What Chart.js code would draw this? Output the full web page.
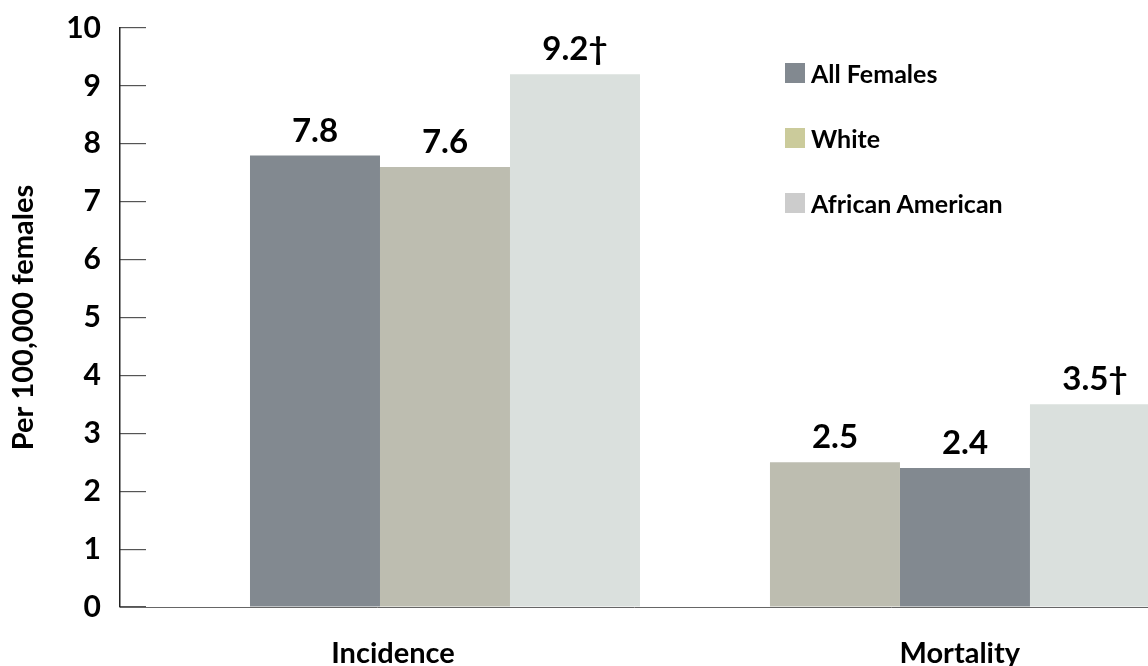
<!DOCTYPE html>
<html>
<head>
<meta charset="utf-8">
<script src="https://cdn.jsdelivr.net/npm/chart.js@4/dist/chart.umd.min.js"></script>
<style>
  html, body { margin: 0; padding: 0; background: #fff; overflow: hidden; }
  #wrap { position: relative; width: 1148px; height: 666px; }
  canvas { display: block; }
  #legend { position: absolute; left: 785px; top: 60px; font: bold 25px Lato, sans-serif; color: #000; }
  #legend div { display: flex; align-items: center; height: 26px; margin-bottom: 39px; white-space: nowrap; }
  #legend span.box { width: 20px; height: 20px; margin-right: 6px; display: inline-block; flex: none; }
</style>
</head>
<body>
<div id="wrap">
  <canvas id="barChart" width="1148" height="666"></canvas>
  <div id="legend"></div>
</div>
<script>
// Data
const categories = ["Incidence", "Mortality"];
const seriesNames = ["All Females", "White", "African American"];
const allFemales = [7.8, 2.5];
const white = [7.6, 2.4];
const africanAmerican = [9.2, 3.5];
const notes = ["", "", "\u2020"]; // dagger after African American values
const yTicks = [0, 1, 2, 3, 4, 5, 6, 7, 8, 9, 10];

// Colours (the original swaps the first two bar colours in the Mortality group)
const legendColors = ["#828990", "#cbcb9b", "#cccccc"];
const barColors = [
  ["#828990", "#bdbdb0"],
  ["#bdbdb0", "#828990"],
  ["#dae0dd", "#dae0dd"],
];

const seriesValues = [allFemales, white, africanAmerican];

const datasets = seriesNames.map((name, s) => ({
  label: name,
  data: seriesValues[s].map((v, i) => ({ x: i, y: v })),
  backgroundColor: barColors[s],
  borderWidth: 0,
  categoryPercentage: 0.75,
  barPercentage: 1.0,
}));

// Value labels above each bar
const valueLabels = {
  id: "valueLabels",
  afterDatasetsDraw(chart) {
    const ctx = chart.ctx;
    ctx.save();
    ctx.font = "bold 33px Lato, sans-serif";
    ctx.fillStyle = "#000";
    ctx.textAlign = "center";
    ctx.textBaseline = "bottom";
    chart.data.datasets.forEach((ds, s) => {
      chart.getDatasetMeta(s).data.forEach((bar, i) => {
        ctx.fillText(seriesValues[s][i].toFixed(1) + notes[s], bar.x, bar.y - 8);
      });
    });
    ctx.restore();
  },
};

const ctx = document.getElementById("barChart");

new Chart(ctx, {
  type: "bar",
  data: { datasets: datasets },
  options: {
    responsive: false,
    animation: false,
    layout: { padding: { top: 28, right: 0, left: 0, bottom: 0 } },
    plugins: {
      legend: { display: false },
      tooltip: { enabled: false },
    },
    scales: {
      x: {
        type: "linear",
        offset: false,
        min: -0.625,
        max: 1.352,
        grid: { offset: false, drawOnChartArea: false, drawTicks: false },
        border: { display: true, color: "#666", width: 1 },
        afterBuildTicks: (scale) => {
          scale.ticks = [{ value: -0.1 }, { value: 0.99 }];
        },
        ticks: {
          font: { family: "Lato, sans-serif", size: 29, weight: "bold" },
          color: "#000",
          padding: 29,
          maxRotation: 0,
          autoSkip: false,
          callback: (v, i) => categories[i],
        },
        afterFit: (scale) => {
          scale.height = 59;
          scale.paddingLeft = 0;
          scale.paddingRight = 0;
        },
      },
      y: {
        min: 0,
        max: 10,
        afterBuildTicks: (scale) => {
          scale.ticks = yTicks.map((v) => ({ value: v }));
        },
        grid: { drawOnChartArea: false, drawTicks: true, tickLength: -26, color: "#555", lineWidth: 1.2 },
        border: { display: true, color: "#222", width: 1.5 },
        ticks: {
          font: { family: "Lato, sans-serif", size: 30, weight: "bold" },
          color: "#000",
          padding: 45,
        },
        title: {
          display: true,
          text: "Per 100,000 females",
          font: { family: "Lato, sans-serif", size: 29, weight: "bold" },
          color: "#000",
          padding: { top: 6, bottom: 0 },
        },
        afterFit: (scale) => {
          scale.width = 120;
          scale.paddingTop = 0;
          scale.paddingBottom = 0;
        },
      },
    },
  },
  plugins: [valueLabels],
});

// Legend
const legend = document.getElementById("legend");
seriesNames.forEach((name, s) => {
  const row = document.createElement("div");
  const box = document.createElement("span");
  box.className = "box";
  box.style.background = legendColors[s];
  row.appendChild(box);
  row.appendChild(document.createTextNode(name));
  legend.appendChild(row);
});
</script>
</body>
</html>
